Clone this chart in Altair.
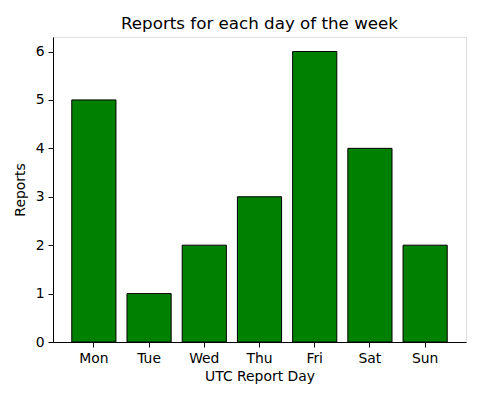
import altair as alt
import pandas as pd

days = ["Mon", "Tue", "Wed", "Thu", "Fri", "Sat", "Sun"]
reports = [5, 1, 2, 3, 6, 4, 2]

df = pd.DataFrame({"day": days, "reports": reports})

FONT = "DejaVu Sans"

chart = alt.Chart(df).mark_bar(
    color="#008000", stroke="black", strokeWidth=1
).encode(
    x=alt.X("day:N", sort=days, title="UTC Report Day",
            scale=alt.Scale(paddingInner=0.2, paddingOuter=0.34),
            axis=alt.Axis(labelAngle=0, labelFont=FONT, labelFontSize=13.9,
                          labelColor="black", titleFont=FONT, titleFontSize=13.9,
                          titleFontWeight="normal", titleColor="black",
                          domainColor="black", tickColor="black", tickSize=5,
                          labelPadding=4, titlePadding=5, grid=False)),
    y=alt.Y("reports:Q", title="Reports",
            scale=alt.Scale(domain=[0, 6.3], nice=False),
            axis=alt.Axis(values=[0, 1, 2, 3, 4, 5, 6], labelFont=FONT, labelFontSize=13.9,
                          labelColor="black", titleFont=FONT, titleFontSize=13.9,
                          titleFontWeight="normal", titleColor="black",
                          domainColor="black", tickColor="black", tickSize=5,
                          labelPadding=4, titlePadding=8, grid=False)),
).properties(
    width=413, height=305,
    title=alt.Title("Reports for each day of the week", font=FONT, fontSize=16.7,
                    fontWeight="normal", color="black", offset=8,
                    baseline="alphabetic", dy=17),
    autosize=alt.AutoSizeParams(type="none"),
    padding={"left": 45, "top": 29, "right": 6, "bottom": 50},
).configure_view(stroke="black", strokeWidth=1).configure(background="white")

chart.save("out.html", embed_options={"renderer": "svg", "actions": False})
